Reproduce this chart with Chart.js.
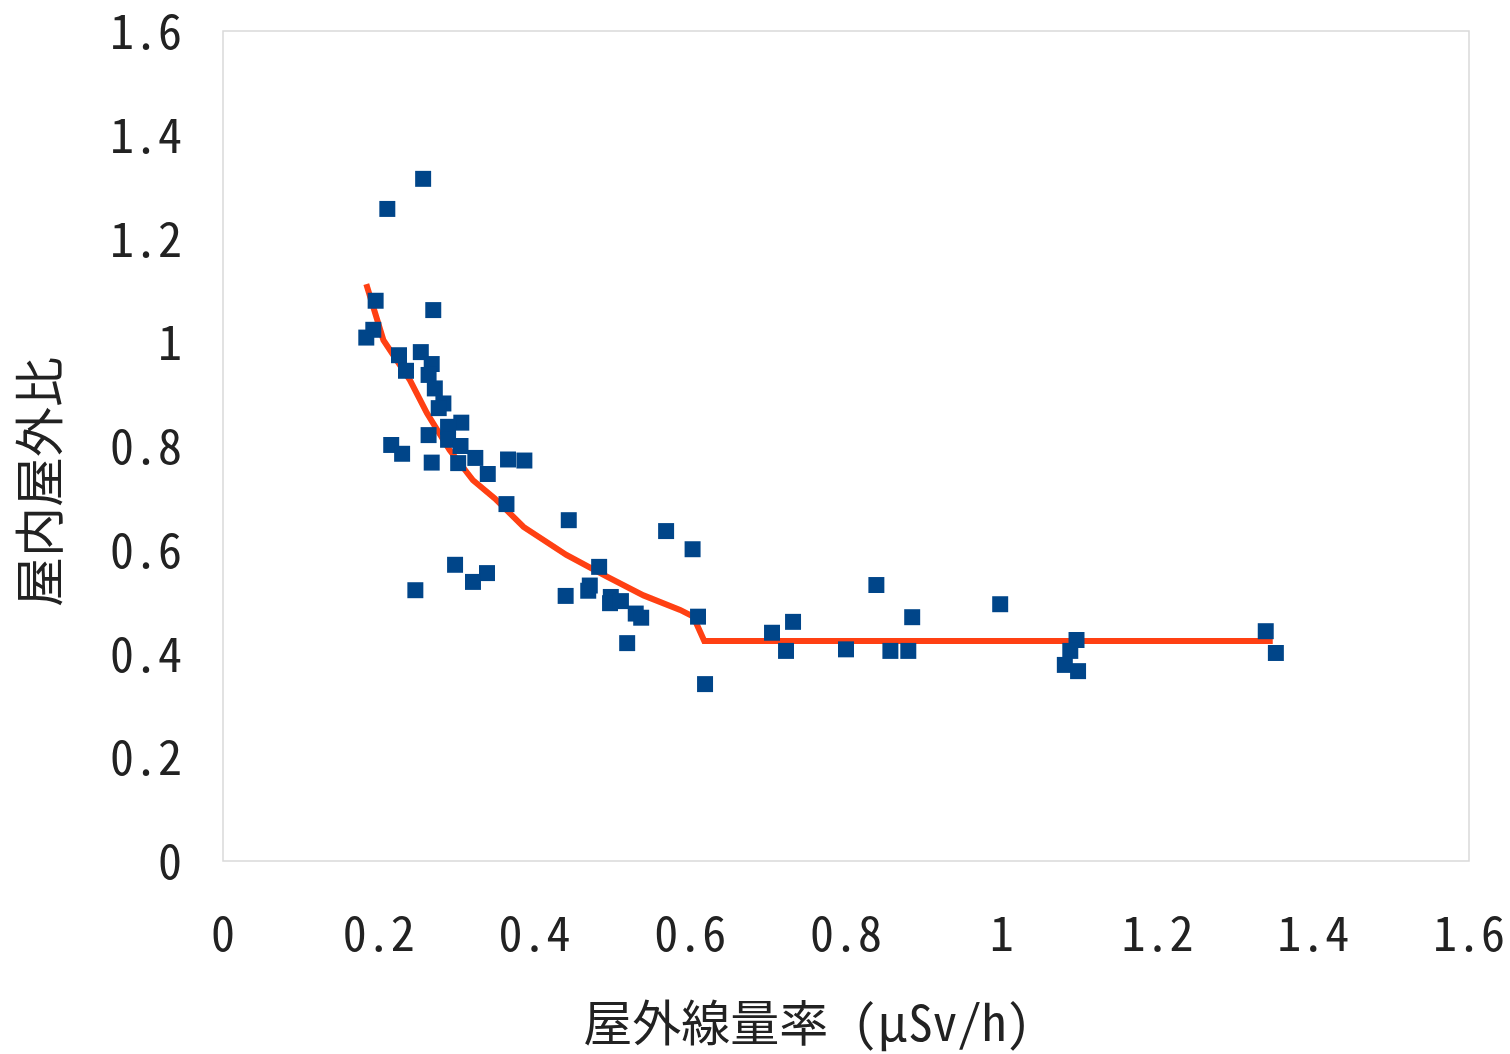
<!DOCTYPE html>
<html>
<head>
<meta charset="utf-8">
<script src="https://cdn.jsdelivr.net/npm/chart.js@4"></script>
<style>
  html, body { margin: 0; padding: 0; background: #fff; }
  #wrap { width: 1510px; height: 1054px; }
</style>
</head>
<body>
<div id="wrap"><canvas id="myChart" width="1510" height="1054"></canvas></div>
<script>
// measured points
const outdoorRate = [
  0.257, 0.211, 0.196, 0.270, 0.193, 0.184, 0.226, 0.254, 0.235, 0.268,
  0.264, 0.272, 0.283, 0.277, 0.306, 0.289, 0.264, 0.289, 0.305, 0.216,
  0.230, 0.268, 0.302, 0.324, 0.340, 0.366, 0.387, 0.364, 0.444, 0.569,
  0.298, 0.339, 0.321, 0.247, 0.483, 0.471, 0.469, 0.440, 0.498, 0.497,
  0.511, 0.530, 0.537, 0.519, 0.603, 0.610, 0.619, 0.705, 0.732, 0.723,
  0.800, 0.839, 0.857, 0.880, 0.885, 0.998, 1.096, 1.088, 1.081, 1.098,
  1.339, 1.352
];
const indoorRatio = [
  1.315, 1.257, 1.080, 1.062, 1.024, 1.009, 0.975, 0.981, 0.945, 0.958,
  0.937, 0.911, 0.882, 0.873, 0.845, 0.837, 0.821, 0.812, 0.800, 0.802,
  0.785, 0.768, 0.767, 0.777, 0.746, 0.774, 0.772, 0.688, 0.657, 0.636,
  0.571, 0.555, 0.538, 0.522, 0.567, 0.531, 0.521, 0.511, 0.509, 0.497,
  0.501, 0.477, 0.469, 0.420, 0.601, 0.471, 0.341, 0.440, 0.461, 0.405,
  0.408, 0.532, 0.405, 0.405, 0.470, 0.495, 0.426, 0.405, 0.378, 0.366,
  0.443, 0.401
];

// fitted curve
const fitX = [0.184, 0.206, 0.240, 0.262, 0.291, 0.321, 0.349, 0.386, 0.441, 0.493, 0.540, 0.587, 0.604, 0.618, 1.348];
const fitY = [1.112, 1.004, 0.927, 0.863, 0.792, 0.734, 0.699, 0.644, 0.590, 0.548, 0.512, 0.484, 0.471, 0.424, 0.424];

const xTitle = "屋外線量率 (μSv/h)";
const yTitle = "屋内屋外比";

const FONT = "'Noto Sans Mono CJK JP', 'Noto Sans CJK JP', 'DejaVu Sans Mono', monospace";

const plotBorder = {
  id: "plotBorder",
  beforeDatasetsDraw(chart) {
    const { ctx, chartArea: a } = chart;
    ctx.save();
    ctx.strokeStyle = "#d9d9d9";
    ctx.lineWidth = 1.5;
    ctx.strokeRect(a.left, a.top, a.right - a.left, a.bottom - a.top);
    ctx.restore();
  },
};

// axis titles sit a little off-centre in the original, so draw them by hand
const axisTitles = {
  id: "axisTitles",
  afterDraw(chart) {
    const ctx = chart.ctx;
    ctx.save();
    ctx.fillStyle = "#222";
    ctx.textAlign = "center";
    ctx.textBaseline = "middle";
    ctx.font = "49px " + FONT;
    ctx.fillText(xTitle, 807, 1022);
    ctx.translate(39, 482);
    ctx.rotate(-Math.PI / 2);
    ctx.font = "50px " + FONT;
    ctx.fillText(yTitle, 0, 0);
    ctx.restore();
  },
};

const fmt = (v) => String(Math.round(v * 10) / 10);

const ctx = document.getElementById("myChart").getContext("2d");

new Chart(ctx, {
  type: "scatter",
  data: {
    datasets: [
      {
        label: "実測",
        data: outdoorRate.map((x, i) => ({ x, y: indoorRatio[i] })),
        pointStyle: "rect",
        pointRadius: 11.3,
        pointHoverRadius: 11.3,
        backgroundColor: "#004589",
        borderWidth: 0,
        order: 0,
      },
      {
        label: "近似",
        type: "line",
        data: fitX.map((x, i) => ({ x, y: fitY[i] })),
        borderColor: "#ff4013",
        borderWidth: 6,
        pointRadius: 0,
        tension: 0,
        fill: false,
        order: 1,
      },
    ],
  },
  options: {
    responsive: false,
    animation: false,
    layout: { padding: { top: 31, right: 41, left: 0, bottom: 0 } },
    plugins: {
      legend: { display: false },
      tooltip: { enabled: false },
    },
    scales: {
      x: {
        type: "linear",
        min: 0,
        max: 1.6,
        ticks: {
          stepSize: 0.2,
          padding: 35,
          color: "#222",
          font: { family: FONT, size: 48 },
          callback: fmt,
        },
        grid: { display: false },
        border: { display: false },
        afterFit: (scale) => { scale.height = 193; scale.paddingRight = 0; scale.paddingLeft = 0; },
      },
      y: {
        min: 0,
        max: 1.6,
        ticks: {
          stepSize: 0.2,
          padding: 33,
          color: "#222",
          font: { family: FONT, size: 48 },
          callback: fmt,
        },
        grid: { display: false },
        border: { display: false },
        afterFit: (scale) => { scale.width = 223; scale.paddingTop = 0; scale.paddingBottom = 0; },
      },
    },
  },
  plugins: [plotBorder, axisTitles],
});
</script>
</body>
</html>
